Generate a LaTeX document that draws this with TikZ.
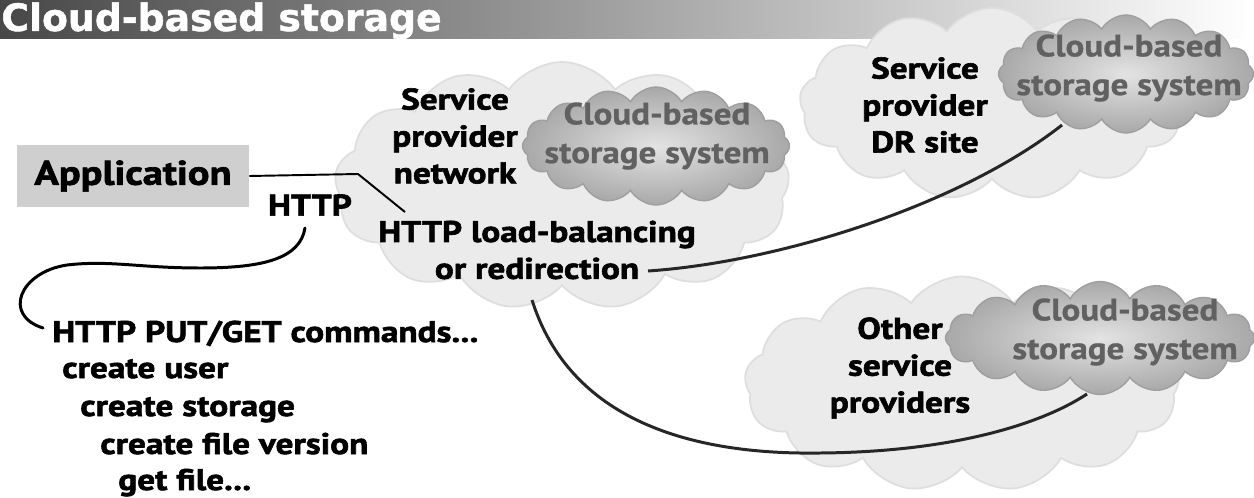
\documentclass[tikz,border=0pt]{standalone}
\usepackage{fontspec}
\setsansfont{PT Sans}
\newfontfamily\titlefont{DejaVu Sans}[FakeBold=1.2]
\newfontfamily\heavyfont{PT Sans}[FakeStretch=1.18, FakeBold=2]
\newfontfamily\greyfont{PT Sans}[FakeStretch=1.14, FakeBold=0.8]
\usetikzlibrary{shapes.symbols}
\begin{document}
\begin{tikzpicture}[x=0.02cm,y=-0.02cm,
  outercloud/.style={cloud, cloud puffs=13, cloud puff arc=110, fill=gray!16, draw=gray!26, line width=1pt, inner sep=0pt},
  innercloud/.style={cloud, cloud puffs=16, cloud puff arc=120, draw=gray!75, line width=0.8pt, inner color=gray!22, outer color=gray!68, inner sep=0pt},
  lbl/.style={font=\heavyfont\bfseries\fontsize{17}{21}\selectfont, align=center, text=black, inner sep=0pt},
  glbl/.style={font=\greyfont\bfseries\fontsize{17.5}{22}\selectfont, align=center, text=black!62, inner sep=0pt},
  cmd/.style={font=\heavyfont\bfseries\fontsize{17}{21}\selectfont, anchor=base west, inner sep=0pt},
  conn/.style={line width=1.7pt, draw=black!85},
  hookline/.style={line width=1.7pt, draw=black, line cap=round},
  appline/.style={line width=1.1pt, draw=black}]
\useasboundingbox (0,0) rectangle (1254,497);
% title bar
\shade[left color=black!72, right color=white] (0,0) rectangle (1254,38);
\node[anchor=base west, font=\titlefont\bfseries\fontsize{21.5}{24}\selectfont, text=white, inner sep=0pt] (title) at (1,31) {Cloud-based storage};
% outer clouds
\node[outercloud, minimum width=9.1cm, minimum height=4.96cm] (outer1) at (562,186) {};
\node[outercloud, minimum width=7.7cm, minimum height=3.84cm] (outer2) at (992,104) {};
\node[outercloud, minimum width=8.7cm, minimum height=4.3cm] (outer3) at (962,384) {};
% application
\node[fill=gray!38, minimum width=4.64cm, minimum height=1.24cm, inner sep=0pt,
  font=\heavyfont\bfseries\fontsize{19.5}{24}\selectfont] (app) at (133,176) {Application};
\node[lbl] (http) at (310,205) {HTTP};
\coordinate (netin) at (405,212);
\draw[appline] (app.east) -- (358,174) -- (netin);
% command list
\node[cmd] (cmd1) at (52,342) {HTTP PUT/GET commands...};
\node[cmd] (cmd2) at (62,378) {create user};
\node[cmd] (cmd3) at (80,416) {create storage};
\node[cmd] (cmd4) at (100,454) {create file version};
\node[cmd] (cmd5) at (118,490) {get file...};
\coordinate (hs) at (305,228);
\coordinate (he) at (43,328);
\draw[hookline] (hs) .. controls (300,258) and (265,268) .. (200,268)
  .. controls (140,268) and (110,260) .. (67,265)
  .. controls (20,272) and (2,315) .. (he);
% connectors
\coordinate (redir) at (648,271);
\coordinate (lbout) at (532,300);
\draw[conn] (redir) .. controls (780,262) and (960,205) .. (1062,125);
\draw[conn] (lbout) .. controls (570,420) and (690,455) .. (820,453)
  .. controls (950,452) and (1040,425) .. (1087,394);
% inner clouds
\node[innercloud, minimum width=5.34cm, minimum height=2.36cm] (inner1) at (656,146) {};
\node[innercloud, minimum width=5.1cm, minimum height=2.36cm] (inner2) at (1126,74) {};
\node[innercloud, minimum width=6.18cm, minimum height=2.26cm] (inner3) at (1100,338) {};
% labels
\node[lbl] (net) at (455,136) {Service\\provider\\network};
\node[lbl] (lb) at (537,250) {HTTP load-balancing\\or redirection};
\node[glbl] (s1) at (657,136) {Cloud-based\\storage system};
\node[lbl] (dr) at (925,105) {Service\\provider\\DR site};
\node[glbl] (s2) at (1129,68) {Cloud-based\\storage system};
\node[lbl] (other) at (900,368) {Other\\service\\providers};
\node[glbl] (s3) at (1125,332) {Cloud-based\\storage system};
\end{tikzpicture}
\end{document}
